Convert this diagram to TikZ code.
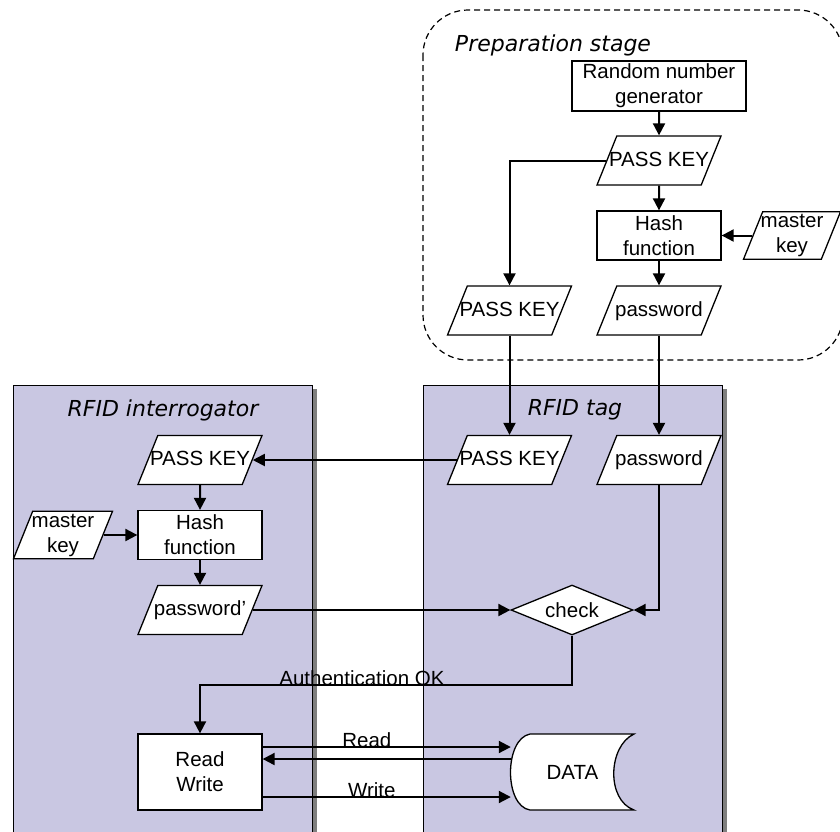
\documentclass[tikz,border=0pt]{standalone}
\usepackage{fontspec}
\setmainfont{Liberation Sans}
\newfontfamily\stagefont{DejaVu Sans}
\usetikzlibrary{arrows.meta,positioning,calc,shapes.geometric}
\definecolor{PanelLilac}{HTML}{C9C7E2}
\definecolor{PanelShade}{HTML}{7F7F7F}

\begin{document}
\begin{tikzpicture}[x=1pt,y=-1pt,
  font=\fontsize{20.5}{25}\selectfont,
  proc/.style={draw,line width=1.3pt,fill=white,align=center,inner sep=0pt,
               minimum width=124pt,minimum height=49pt},
  iobox/.style={draw,line width=1.3pt,fill=white,align=center,inner xsep=-8.5pt,
               inner ysep=15pt,text height=15pt,text depth=4pt,
               trapezium,trapezium left angle=68,trapezium right angle=112,
               trapezium stretches body,minimum width=124pt},
  twoline/.style={text height=,text depth=,inner ysep=2.5pt},
  flow/.style={line width=2pt,-{Triangle[length=12pt,width=12pt]}},
  stage/.style={font=\stagefont\itshape\fontsize{22}{26}\selectfont},
  panel/.style={fill=PanelLilac,draw=black,line width=1pt}]
\useasboundingbox (0,0) rectangle (840,831);
\clip (0,0) rectangle (840,831);

% panels
\fill[PanelShade] (312,389) rectangle (317,840);
\fill[PanelShade] (722,389) rectangle (727,840);
\draw[panel] (13,385) rectangle (312,840);
\draw[panel] (423,385) rectangle (722,840);
\node[stage] (ti) at (163,410) {RFID interrogator};
\node[stage] (tt) at (575,410) {RFID tag};

% preparation stage
\draw[dash pattern=on 6pt off 4pt,line width=1.2pt,rounded corners=45pt] (423,10) rectangle (843,360);
\node[stage] (tp) at (553,45) {Preparation stage};

\node[proc,minimum width=174pt,minimum height=50pt] (rng) at (659,86) {Random number\\generator};
\node[iobox] (pk1) at (659,160.5) {PASS KEY};
\node[proc] (hash1) at (659,235.5) {Hash\\function};
\node[iobox,twoline,minimum width=97pt] (mk1) at (792,235.5) {master\\key};
\node[iobox] (pk2) at (509.5,310.5) {PASS KEY};
\node[iobox] (pw1) at (659,310.5) {password};

% RFID tag
\node[iobox] (pkt) at (509.5,460) {PASS KEY};
\node[iobox] (pwt) at (659,460) {password};
\node[diamond,draw,fill=white,line width=1.3pt,inner sep=0pt,aspect=2.4,
      minimum width=122pt,minimum height=50pt] (chk) at (572,610) {check};
\draw[fill=white,line width=1.3pt] (530,734) -- (634,734)
   .. controls (608,746) and (606,800) .. (634,810) -- (530,810)
   .. controls (504,806) and (504,739) .. (530,734) -- cycle;
\node[minimum width=123pt,minimum height=76pt,inner sep=0pt] (data) at (572.5,772) {DATA};

% RFID interrogator
\node[iobox] (pki) at (200,460) {PASS KEY};
\node[proc] (hashi) at (200,535) {Hash\\function};
\node[iobox,twoline,minimum width=99pt] (mki) at (63,535) {master\\key};
\node[iobox] (pwi) at (200,610) {password'};
\node[proc,minimum height=76pt] (rw) at (200,772) {Read\\Write};

% connectors
\draw[flow] (rng) -- (pk1);
\draw[flow] (pk1) -- (hash1);
\draw[flow] (hash1) -- (pw1);
\draw[flow] (mk1.left side) -- (hash1.east);
\draw[flow] (pk1.left side) -| (pk2.north);
\draw[flow] (pk2.south) -- (pkt.north);
\draw[flow] (pw1.south) -- (pwt.north);
\draw[flow] (pkt.left side) -- (pki.right side);
\draw[flow] (pki) -- (hashi);
\draw[flow] (mki.right side) -- (hashi.west);
\draw[flow] (hashi) -- (pwi);
\draw[flow] (pwi.right side) -- (chk.west);
\draw[flow] (pwt.south) |- (chk.east);
\draw[flow] (chk.south) -- ++(0,49) -| (rw.north);
\node[anchor=base] (okl) at (362,685) {Authentication OK};
\draw[flow] ([yshift=25pt]rw.east) -- node[pos=.42,anchor=base] (rdl) {Read} ([yshift=25pt]data.west);
\draw[flow] ([yshift=13pt]data.west) -- ([yshift=13pt]rw.east);
\draw[flow] ([yshift=-25pt]rw.east) -- node[pos=.44,anchor=base] (wrl) {Write} ([yshift=-25pt]data.west);
\end{tikzpicture}
\end{document}
